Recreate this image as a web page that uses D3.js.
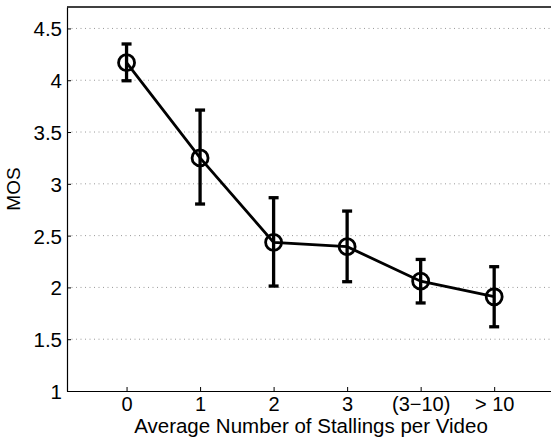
<!DOCTYPE html>
<html>
<head>
<meta charset="utf-8">
<script src="https://cdn.jsdelivr.net/npm/d3@7"></script>
<style>
  body { margin: 0; background: #fff; }
  svg { display: block; font-family: "Liberation Sans", Arial, sans-serif; }
</style>
</head>
<body>
<svg id="chart" width="551" height="440"></svg>
<script>
// Data
const categories = ["0", "1", "2", "3", "(3\u221210)", "> 10"];
const mos = [4.17, 3.25, 2.435, 2.393, 2.06, 1.91];
const errLow = [3.995, 2.805, 2.013, 2.055, 1.85, 1.62];
const errHigh = [4.35, 3.712, 2.866, 2.737, 2.27, 2.2];
const yTicks = [1, 1.5, 2, 2.5, 3, 3.5, 4, 4.5];

const svg = d3.select("#chart");
const margin = { left: 67, top: 7, bottom: 391 };
const font = "Liberation Sans, Arial, sans-serif";

// x runs on the category index, the frame goes past the right edge
const x = d3.scaleLinear().domain([-0.81, 5.8]).range([margin.left, 126.7 + 5.8 * 73.5]);
const y = d3.scaleLinear().domain([1, 4.707]).range([margin.bottom, margin.top]);

// dotted grid
svg.append("g")
  .selectAll("line")
  .data(yTicks.slice(1))
  .join("line")
  .attr("x1", margin.left)
  .attr("x2", 560)
  .attr("y1", (d) => y(d))
  .attr("y2", (d) => y(d))
  .attr("stroke", "#999")
  .attr("stroke-width", 1)
  .attr("stroke-dasharray", "1,3.5");

// y axis
const yAxis = svg.append("g")
  .attr("transform", `translate(${margin.left},0)`)
  .call(d3.axisLeft(y).tickValues(yTicks).tickSizeInner(-4).tickSizeOuter(0).tickPadding(5)
    .tickFormat(d3.format("")));
yAxis.select(".domain").attr("stroke", "#000").attr("stroke-width", 1.2);
yAxis.selectAll(".tick line").attr("stroke", "#000");
yAxis.selectAll("text").attr("font-size", 20.5).attr("fill", "#000")
  .attr("font-family", font).attr("dy", "0.36em");

// x axis
const xAxis = svg.append("g")
  .attr("transform", `translate(0,${margin.bottom})`)
  .call(d3.axisBottom(x).tickValues(d3.range(categories.length)).tickSizeInner(-4).tickSizeOuter(0)
    .tickPadding(6).tickFormat((i) => categories[i]));
xAxis.select(".domain").attr("stroke", "#000").attr("stroke-width", 1.2);
xAxis.selectAll(".tick line").attr("stroke", "#000");
xAxis.selectAll("text").attr("font-size", 20).attr("fill", "#000")
  .attr("font-family", font);

// top frame
svg.append("line")
  .attr("x1", margin.left).attr("x2", 560)
  .attr("y1", margin.top).attr("y2", margin.top)
  .attr("stroke", "#000").attr("stroke-width", 1.5);

// axis titles
svg.append("text")
  .attr("x", 311)
  .attr("y", 433)
  .attr("text-anchor", "middle")
  .attr("font-size", 20.5)
  .text("Average Number of Stallings per Video");

svg.append("text")
  .attr("transform", `translate(20,189) rotate(-90)`)
  .attr("text-anchor", "middle")
  .attr("font-size", 19)
  .text("MOS");

// error bars
const idx = d3.range(categories.length);
const bars = svg.append("g").attr("stroke", "#000").attr("stroke-width", 3.3);
bars.selectAll("line.v")
  .data(idx)
  .join("line")
  .attr("class", "v")
  .attr("x1", (i) => x(i)).attr("x2", (i) => x(i))
  .attr("y1", (i) => y(errLow[i])).attr("y2", (i) => y(errHigh[i]));
bars.selectAll("line.lo")
  .data(idx)
  .join("line")
  .attr("class", "lo")
  .attr("x1", (i) => x(i) - 5).attr("x2", (i) => x(i) + 5)
  .attr("y1", (i) => y(errLow[i])).attr("y2", (i) => y(errLow[i]));
bars.selectAll("line.hi")
  .data(idx)
  .join("line")
  .attr("class", "hi")
  .attr("x1", (i) => x(i) - 5).attr("x2", (i) => x(i) + 5)
  .attr("y1", (i) => y(errHigh[i])).attr("y2", (i) => y(errHigh[i]));

// line
svg.append("path")
  .datum(idx)
  .attr("fill", "none")
  .attr("stroke", "#000")
  .attr("stroke-width", 2.8)
  .attr("d", d3.line().x((i) => x(i)).y((i) => y(mos[i])));

// markers
svg.append("g")
  .selectAll("circle")
  .data(idx)
  .join("circle")
  .attr("cx", (i) => x(i))
  .attr("cy", (i) => y(mos[i]))
  .attr("r", 8)
  .attr("fill", "none")
  .attr("stroke", "#000")
  .attr("stroke-width", 2.8);
</script>
</body>
</html>
